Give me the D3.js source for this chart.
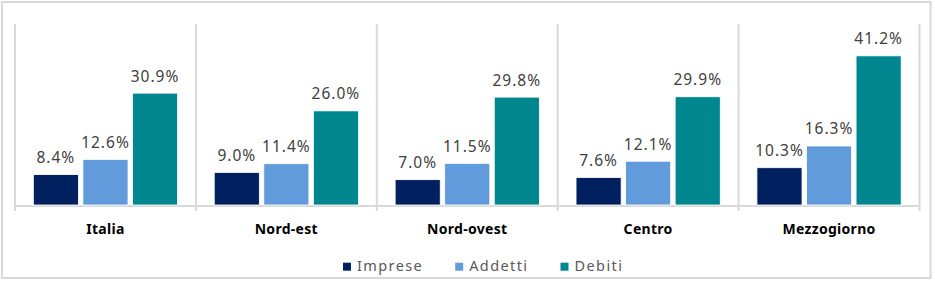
<!DOCTYPE html>
<html>
<head>
<meta charset="utf-8">
<script src="https://cdn.jsdelivr.net/npm/d3@7"></script>
<style>
  body { margin: 0; background: #fff; }
  text { font-family: "Noto Sans", sans-serif; }
</style>
</head>
<body>
<div class="chart"></div>
<script>
var regions = ['Italia', 'Nord-est', 'Nord-ovest', 'Centro', 'Mezzogiorno'];
var seriesNames = ['Imprese', 'Addetti', 'Debiti'];
var imprese = [8.4, 9.0, 7.0, 7.6, 10.3];
var addetti = [12.6, 11.4, 11.5, 12.1, 16.3];
var debiti = [30.9, 26.0, 29.8, 29.9, 41.2];
var colors = ['#002060', '#629BDB', '#00868F'];

var W = 935, H = 281;
var values = [imprese, addetti, debiti];

var svg = d3.select('.chart')
            .append('svg')
            .attr('width', W)
            .attr('height', H);

// outer frame
svg.append('rect')
   .attr('x', 2).attr('y', 2)
   .attr('width', 928.5).attr('height', 276)
   .attr('fill', 'none')
   .attr('stroke', '#D9D9D9')
   .attr('stroke-width', 2);

var x0 = d3.scaleBand().domain(regions).range([15, 919.5]).padding(0);
var x1 = d3.scaleBand().domain(seriesNames).range([0, x0.bandwidth()])
           .paddingInner(0.09).paddingOuter(0.37);
var y = d3.scaleLinear().domain([0, 50]).range([205, 24]);

// separators between groups
var edges = regions.map(function (r) { return x0(r); }).concat([x0.range()[1]]);
svg.selectAll('.sep')
   .data(edges)
   .enter().append('line')
   .attr('x1', function (d) { return d; })
   .attr('x2', function (d) { return d; })
   .attr('y1', y(50))
   .attr('y2', 211)
   .attr('stroke', '#D9D9D9')
   .attr('stroke-width', 2);

svg.append('line')
   .attr('x1', x0.range()[0]).attr('x2', x0.range()[1])
   .attr('y1', 206).attr('y2', 206)
   .attr('stroke', '#D9D9D9')
   .attr('stroke-width', 2);

var groups = svg.selectAll('.grp')
   .data(regions)
   .enter().append('g')
   .attr('transform', function (d) { return 'translate(' + x0(d) + ',0)'; });

groups.each(function (r, i) {
  var g = d3.select(this);
  var rows = seriesNames.map(function (s, j) { return { s: s, v: values[j][i], c: colors[j] }; });
  g.selectAll('rect')
   .data(rows)
   .enter().append('rect')
   .attr('x', function (d) { return x1(d.s); })
   .attr('width', x1.bandwidth())
   .attr('y', function (d) { return y(d.v); })
   .attr('height', function (d) { return y(0) - y(d.v); })
   .attr('fill', function (d) { return d.c; })
   .attr('stroke', '#fff')
   .attr('stroke-width', 0.8);

  g.selectAll('.val')
   .data(rows)
   .enter().append('text')
   .attr('x', function (d) { return x1(d.s) + x1.bandwidth() / 2; })
   .attr('y', function (d) { return y(d.v) - 11.5; })
   .attr('text-anchor', 'middle')
   .attr('font-size', '15.5px')
   .attr('letter-spacing', '1px')
   .attr('fill', '#404040')
   .text(function (d) { return d.v.toFixed(1) + '%'; });

  g.append('text')
   .attr('x', x0.bandwidth() / 2)
   .attr('y', 233.5)
   .attr('text-anchor', 'middle')
   .attr('font-size', '14px')
   .attr('font-weight', 'bold')
   .attr('letter-spacing', '0.3px')
   .attr('fill', '#000')
   .text(r);
});

// legend
var lx = 343;
seriesNames.forEach(function (s, j) {
  svg.append('rect')
     .attr('x', lx).attr('y', 262.7)
     .attr('width', 8).attr('height', 8)
     .attr('fill', colors[j]);
  var t = svg.append('text')
     .attr('x', lx + 14)
     .attr('y', 270.7)
     .attr('font-size', '14.5px')
     .attr('letter-spacing', '1.4px')
     .attr('fill', '#595959')
     .text(s);
  lx += 14 + t.node().getComputedTextLength() + 32;
});
</script>
</body>
</html>
